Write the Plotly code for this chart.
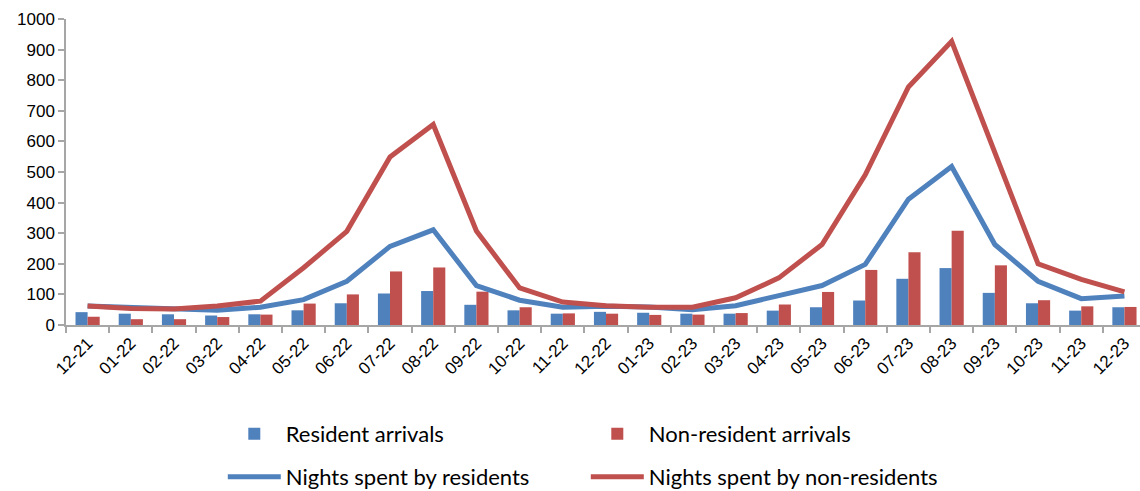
import plotly.graph_objects as go

categories = ["12-21", "01-22", "02-22", "03-22", "04-22", "05-22", "06-22", "07-22", "08-22",
              "09-22", "10-22", "11-22", "12-22", "01-23", "02-23", "03-23", "04-23", "05-23",
              "06-23", "07-23", "08-23", "09-23", "10-23", "11-23", "12-23"]

resident_arrivals = [42, 37, 35, 31, 35, 48, 71, 103, 111, 66, 48, 37, 43, 40, 37, 37, 47, 58,
                     80, 151, 186, 105, 71, 47, 58]
nonresident_arrivals = [27, 19, 19, 26, 34, 70, 100, 175, 188, 109, 58, 38, 37, 33, 34, 39, 67,
                        108, 180, 238, 308, 195, 81, 61, 59]
nights_residents = [62, 58, 52, 48, 58, 83, 143, 257, 311, 129, 81, 58, 61, 59, 50, 63, 96, 129,
                    198, 411, 518, 263, 143, 86, 95]
nights_nonresidents = [62, 54, 52, 62, 78, 187, 306, 549, 655, 307, 121, 75, 63, 58, 58, 89, 154,
                       263, 491, 778, 927, 565, 200, 149, 108]

y_ticks = [0, 100, 200, 300, 400, 500, 600, 700, 800, 900, 1000]

BLUE = "#4F81BD"
RED = "#C0504D"
AXIS = "#A6A6A6"
TICK_FONT = dict(family="Liberation Sans, Arial, sans-serif", size=17, color="#000000")
LEG_FONT = dict(family="Lato, Calibri, sans-serif", size=22, color="#000000")

fig = go.Figure()
fig.add_trace(go.Bar(x=categories, y=resident_arrivals, name="Resident arrivals",
                     marker=dict(color=BLUE, line=dict(width=0)), legend="legend"))
fig.add_trace(go.Bar(x=categories, y=nonresident_arrivals, name="Non-resident arrivals",
                     marker=dict(color=RED, line=dict(width=0)), legend="legend"))
fig.add_trace(go.Scatter(x=categories, y=nights_residents, name="Nights spent by residents",
                         mode="lines", line=dict(color=BLUE, width=5), legend="legend2"))
fig.add_trace(go.Scatter(x=categories, y=nights_nonresidents, name="Nights spent by non-residents",
                         mode="lines", line=dict(color=RED, width=5), legend="legend2"))

W, H = 1140, 491
L, T, B = 66, 19, 166

leg_common = dict(orientation="h", x=0.146, xanchor="left", yanchor="middle", yref="container",
                  entrywidth=295, entrywidthmode="pixels", font=LEG_FONT, itemwidth=53,
                  traceorder="normal", bgcolor="rgba(0,0,0,0)")

fig.update_layout(
    width=W, height=H,
    margin=dict(l=L, r=0, t=T, b=B, pad=0, autoexpand=False),
    paper_bgcolor="white", plot_bgcolor="white",
    barmode="group", bargap=0.44, bargroupgap=0.0,
    font=TICK_FONT,
    legend=dict(y=(H - 434) / H, **leg_common),
    legend2=dict(y=(H - 477) / H, **leg_common),
    xaxis=dict(type="category", range=[-0.5, 24.36], tickangle=-45,
               showline=True, linecolor=AXIS, linewidth=1.5,
               ticks="outside", tickson="boundaries", ticklen=6, tickcolor=AXIS, tickwidth=1.5,
               showgrid=False, zeroline=False, tickfont=TICK_FONT, fixedrange=True),
    yaxis=dict(range=[0, 1000], tickvals=y_ticks, showline=True, linecolor=AXIS, linewidth=1.5,
               ticks="outside", ticklen=6, tickcolor=AXIS, tickwidth=1.5,
               showgrid=False, zeroline=False, tickfont=TICK_FONT, fixedrange=True),
)

fig.write_html("out.html", config={"displayModeBar": False})
